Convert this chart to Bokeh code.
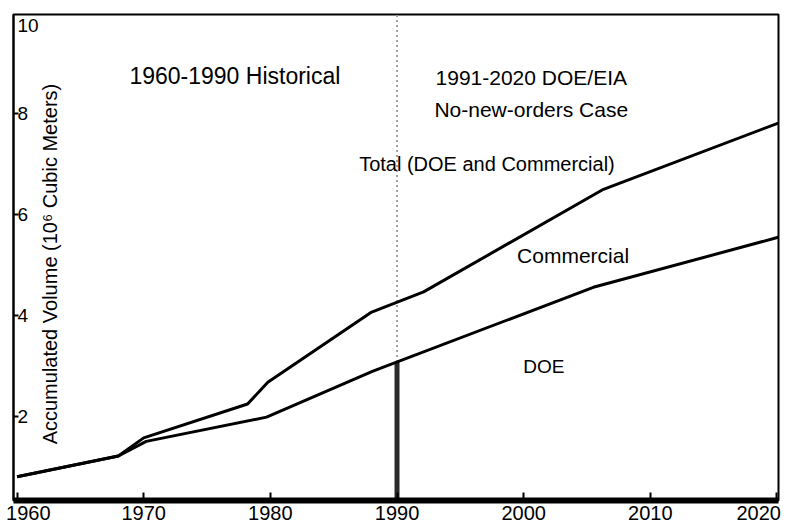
import numpy as np
from bokeh.plotting import figure
from bokeh.models import Label, FixedTicker, Range1d
from bokeh.embed import file_html
from bokeh.resources import INLINE

# ---- data ----
total_years = [1960, 1968, 1970, 1978.2, 1979.8, 1988, 1992.1, 2006.3, 2020.1]
total_values = [0.80, 1.21, 1.57, 2.24, 2.67, 4.06, 4.46, 6.49, 7.80]
doe_years = [1960, 1968, 1970.2, 1979.7, 1988.1, 2005.5, 2020.1]
doe_values = [0.80, 1.21, 1.50, 1.98, 2.89, 4.55, 5.54]
x_ticks = [1960, 1970, 1980, 1990, 2000, 2010, 2020]
y_ticks = [2, 4, 6, 8, 10]
split_year = 1990

FONT = "Liberation Sans"
NB = "\u00a0"

p = figure(width=786, height=526,
           x_range=Range1d(1959.72, 2020.12), y_range=Range1d(0.33, 9.95),
           output_backend="svg", toolbar_location=None,
           min_border_left=13, min_border_right=8, min_border_top=14, min_border_bottom=23)
p.background_fill_color = "white"
p.border_fill_color = "white"
p.grid.visible = False
p.outline_line_color = "black"
p.outline_line_width = 2

# x axis: thick base line, inward ticks, year labels
xa = p.xaxis[0]
xa.ticker = FixedTicker(ticks=x_ticks)
xa.axis_line_width = 6
xa.axis_line_color = "black"
xa.major_tick_in = 8
xa.major_tick_out = 0
xa.major_tick_line_width = 2
xa.minor_tick_in = 0
xa.minor_tick_out = 0
pad = NB
xa.major_label_overrides = {
    t: (pad + str(t) if i == 0 else (str(t) + pad if i == len(x_ticks) - 1 else str(t)))
    for i, t in enumerate(x_ticks)
}
xa.major_label_text_font = FONT
xa.major_label_text_font_size = "20px"
xa.major_label_text_color = "black"
xa.major_label_standoff = 1

# y axis: thin line, inward ticks, labels drawn inside the frame
ya = p.yaxis[0]
ya.ticker = FixedTicker(ticks=y_ticks)
ya.axis_line_width = 2
ya.axis_line_color = "black"
ya.major_tick_in = 5
ya.major_tick_out = 0
ya.major_tick_line_width = 2
ya.minor_tick_in = 0
ya.minor_tick_out = 0
ya.major_label_overrides = {t: "" for t in y_ticks}
ya.major_label_text_font_size = "0px"
ya.major_label_standoff = 0

# 1990 divider (historical / projection)
doe_split = float(np.interp(split_year, doe_years, doe_values))
p.segment(x0=[split_year], y0=[doe_split], x1=[split_year], y1=[p.y_range.end],
          line_width=2, line_color="#a0a0a0", line_dash="2 3")
p.segment(x0=[split_year], y0=[p.y_range.start], x1=[split_year], y1=[doe_split],
          line_width=5, line_color="#2a2a2a")

# series
p.line(total_years, total_values, line_width=3, line_color="black", line_join="round")
p.line(doe_years, doe_values, line_width=3, line_color="black", line_join="round")

# annotations inside plot
notes = [
    ("1960-1990 Historical", 1977.2, 8.73, 23),
    ("1991-2020 DOE/EIA", 2000.6, 8.71, 21),
    ("No-new-orders Case", 2000.6, 8.06, 21),
    ("Total (DOE and Commercial)", 1997.1, 7.00, 20),
    ("Commercial", 2003.9, 5.17, 21),
    ("DOE", 2001.6, 2.99, 19),
]
for txt, xx, yy, fs in notes:
    p.add_layout(Label(x=xx, y=yy, text=txt, text_align="center", text_baseline="middle",
                       text_font=FONT, text_font_size=f"{fs}px", text_color="black"))

p.add_layout(Label(x=1962.64, y=5.01, text="Accumulated Volume (10\u2076 Cubic Meters)",
                   angle=np.pi / 2, text_align="center", text_baseline="middle",
                   text_font=FONT, text_font_size="20px", text_color="black"))

# y tick labels (drawn inside the frame, right of the axis line)
for t in y_ticks:
    if t > p.y_range.end:
        yy, base, yoff = p.y_range.end, "top", -4
    else:
        yy, base, yoff = t, "middle", 0
    p.add_layout(Label(x=p.x_range.start, y=yy, text=str(t), x_offset=4, y_offset=yoff,
                       text_align="left", text_baseline=base,
                       text_font=FONT, text_font_size="19px", text_color="black"))

open("out.html", "w").write(file_html(p, INLINE))
